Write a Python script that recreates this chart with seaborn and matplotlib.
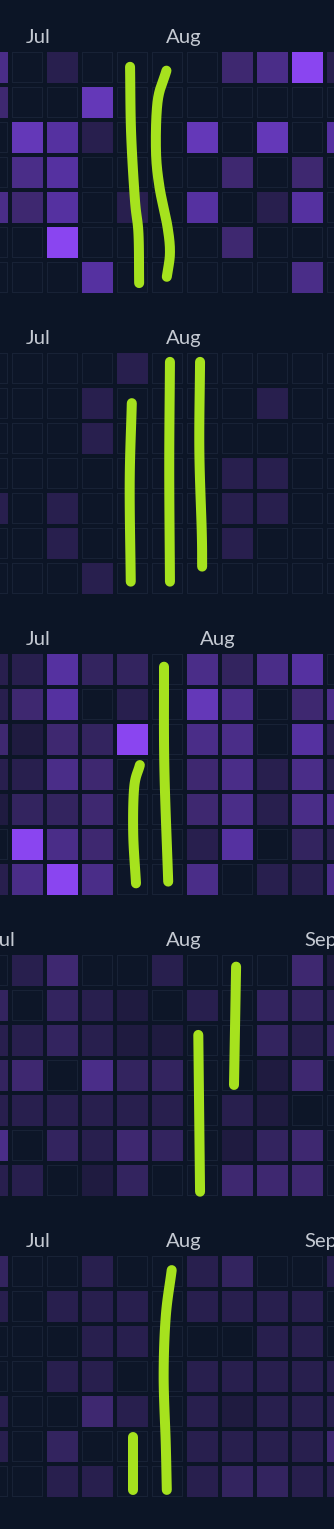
import numpy as np
import matplotlib
matplotlib.use("Agg")
import matplotlib.pyplot as plt
from matplotlib.colors import ListedColormap
import seaborn as sns

sns.set_style("dark")
plt.rcParams["font.family"] = ["Lato", "DejaVu Sans"]

# Activity levels per day (rows = weekdays, columns = weeks), 0 = no activity
grid_1 = [
    [5, 0, 2, 0, 0, 0, 0, 4, 5, 8, 2],
    [4, 0, 0, 7, 0, 0, 0, 0, 0, 0, 0],
    [0, 7, 6, 2, 0, 0, 7, 0, 7, 0, 6],
    [0, 5, 6, 0, 0, 0, 0, 4, 0, 4, 0],
    [5, 4, 6, 0, 2, 0, 6, 0, 2, 6, 0],
    [0, 0, 8, 0, 0, 0, 0, 4, 0, 0, 0],
    [0, 0, 0, 6, 0, 0, 0, 0, 0, 5, 0],
]
grid_2 = [
    [0, 0, 0, 0, 2, 0, 0, 0, 0, 0, 0],
    [0, 0, 0, 2, 0, 0, 0, 0, 2, 0, 0],
    [0, 0, 0, 2, 0, 0, 0, 0, 0, 0, 0],
    [0, 0, 0, 0, 0, 0, 0, 2, 2, 0, 0],
    [2, 0, 2, 0, 0, 0, 0, 2, 2, 0, 0],
    [0, 0, 2, 0, 0, 0, 0, 2, 0, 0, 0],
    [0, 0, 0, 2, 0, 0, 0, 0, 0, 0, 0],
]
grid_3 = [
    [2, 2, 6, 3, 3, 0, 5, 3, 5, 6, 0],
    [2, 4, 6, 0, 2, 0, 7, 5, 0, 4, 5],
    [4, 1, 4, 3, 8, 0, 5, 5, 0, 6, 2],
    [2, 2, 5, 4, 0, 0, 4, 5, 2, 5, 2],
    [1, 3, 3, 4, 0, 0, 4, 5, 2, 5, 5],
    [0, 8, 5, 4, 0, 0, 2, 6, 0, 3, 2],
    [2, 5, 8, 5, 0, 0, 5, 0, 2, 2, 5],
]
grid_4 = [
    [0, 2, 4, 0, 0, 2, 0, 0, 0, 4, 1],
    [3, 0, 3, 2, 1, 0, 2, 0, 3, 3, 2],
    [2, 2, 3, 2, 1, 1, 0, 0, 3, 2, 3],
    [3, 4, 0, 5, 3, 3, 0, 0, 1, 4, 0],
    [2, 2, 2, 2, 2, 2, 0, 2, 1, 0, 0],
    [5, 0, 3, 2, 4, 3, 0, 1, 3, 4, 0],
    [2, 2, 0, 1, 3, 0, 0, 4, 4, 4, 0],
]
grid_5 = [
    [3, 0, 0, 2, 0, 0, 2, 3, 0, 0, 2],
    [2, 0, 2, 2, 2, 0, 2, 2, 2, 2, 0],
    [0, 0, 0, 2, 2, 0, 0, 0, 2, 2, 0],
    [0, 0, 2, 2, 0, 0, 2, 2, 2, 2, 2],
    [2, 0, 0, 4, 2, 0, 2, 1, 2, 2, 2],
    [2, 0, 3, 0, 0, 0, 2, 2, 2, 2, 4],
    [0, 0, 2, 2, 0, 0, 2, 3, 3, 2, 2],
]

# Month labels: (text, position in week columns)
months_1 = [("Jul", 1.46), ("Aug", 5.46)]
months_2 = [("Jul", 1.46), ("Aug", 5.46)]
months_3 = [("Jul", 1.46), ("Aug", 6.43)]
months_4 = [("Jul", 0.46), ("Aug", 5.46), ("Sep", 9.41)]
months_5 = [("Jul", 1.46), ("Aug", 5.46), ("Sep", 9.41)]

# Hand-drawn highlight strokes, in (week, weekday) cell units
strokes_1 = [
    [(4.43, 0.48), (4.46, 2.37), (4.57, 4.29), (4.67, 5.24), (4.69, 6.66)],
    [(5.47, 0.59), (5.22, 1.45), (5.17, 2.86), (5.27, 3.91), (5.50, 5.05), (5.57, 5.80), (5.48, 6.48)],
]
strokes_2 = [
    [(4.48, 1.49), (4.42, 3.78), (4.45, 6.59)],
    [(5.57, 0.31), (5.55, 3.30), (5.57, 6.59)],
    [(6.43, 0.31), (6.41, 2.83), (6.48, 5.21), (6.49, 6.16)],
]
strokes_3 = [
    [(4.71, 3.23), (4.55, 3.85), (4.52, 5.18), (4.60, 6.61)],
    [(5.40, 0.42), (5.41, 3.28), (5.52, 6.56)],
]
strokes_4 = [
    [(6.38, 2.34), (6.43, 6.82)],
    [(7.46, 0.39), (7.40, 3.77)],
]
strokes_5 = [
    [(4.52, 5.22), (4.52, 6.74)],
    [(5.62, 0.46), (5.45, 1.79), (5.39, 3.50), (5.45, 5.41), (5.48, 6.74)],
]

panels = [
    (grid_1, months_1, strokes_1),
    (grid_2, months_2, strokes_2),
    (grid_3, months_3, strokes_3),
    (grid_4, months_4, strokes_4),
    (grid_5, months_5, strokes_5),
]

BG = "#0c1526"
EMPTY_FILL = "#0d1628"
EMPTY_EDGE = "#182236"
LABEL = "#c5cad3"
STROKE = "#a6e21e"
LEVEL_COLORS = ["#1f1b40", "#281f4e", "#33245f", "#3e2870",
                "#4a2d88", "#5531a0", "#6438b8", "#8a45f0"]
level_cmap = ListedColormap(LEVEL_COLORS)

W, H, DPI = 334, 1529, 100
PITCH = 35          # pixel size of one week column / weekday row
PANEL_STEP = 301    # vertical distance between stacked panels
GRID_TOP = 50
X0 = -25


def pt(px):
    return px * 72.0 / DPI


def smooth(points, n=24):
    """Catmull-Rom curve through the given points."""
    p = np.asarray(points, dtype=float)
    if len(p) < 3:
        return p[:, 0], p[:, 1]
    ext = np.vstack([2 * p[0] - p[1], p, 2 * p[-1] - p[-2]])
    t = np.linspace(0, 1, n, endpoint=False)[:, None]
    out = []
    for i in range(1, len(ext) - 2):
        p0, p1, p2, p3 = ext[i - 1], ext[i], ext[i + 1], ext[i + 2]
        seg = 0.5 * ((2 * p1) + (-p0 + p2) * t
                     + (2 * p0 - 5 * p1 + 4 * p2 - p3) * t ** 2
                     + (-p0 + 3 * p1 - 3 * p2 + p3) * t ** 3)
        out.append(seg)
    out.append(p[-1:])
    c = np.vstack(out)
    return c[:, 0], c[:, 1]


fig = plt.figure(figsize=(W / DPI, H / DPI), dpi=DPI, facecolor=BG)

for k, (grid, months, strokes) in enumerate(panels):
    data = np.array(grid, dtype=float)
    nrows, ncols = data.shape
    top = GRID_TOP + PANEL_STEP * k
    ax = fig.add_axes([X0 / W, (H - top - nrows * PITCH) / H,
                       ncols * PITCH / W, nrows * PITCH / H])
    ax.set_facecolor(BG)
    empty = data == 0

    # empty days: dark fill with a faint outline
    sns.heatmap(np.zeros_like(data), mask=~empty,
                cmap=ListedColormap([EMPTY_FILL]), cbar=False,
                linewidths=pt(6), linecolor=EMPTY_EDGE, ax=ax,
                xticklabels=False, yticklabels=False)
    # active days coloured by level
    sns.heatmap(data, mask=empty, cmap=level_cmap, vmin=0.5, vmax=8.5,
                cbar=False, linewidths=0, ax=ax,
                xticklabels=False, yticklabels=False)
    # gaps between the squares
    sns.heatmap(data, cmap=ListedColormap([(0, 0, 0, 0)]), cbar=False,
                linewidths=pt(4), linecolor=BG, ax=ax,
                xticklabels=False, yticklabels=False)

    for name, xpos in months:
        ax.text(xpos, -7 / PITCH, name, color=LABEL, fontsize=14.6,
                ha="left", va="baseline", clip_on=False)

    for stroke in strokes:
        xs, ys = smooth(stroke)
        ax.plot(xs, ys, color=STROKE, lw=7.2, solid_capstyle="round",
                solid_joinstyle="round", clip_on=False, zorder=10)

    ax.set_xlim(0, ncols)
    ax.set_ylim(nrows, 0)
    ax.set_axis_off()

fig.savefig("out.png", dpi=DPI, facecolor=BG)
